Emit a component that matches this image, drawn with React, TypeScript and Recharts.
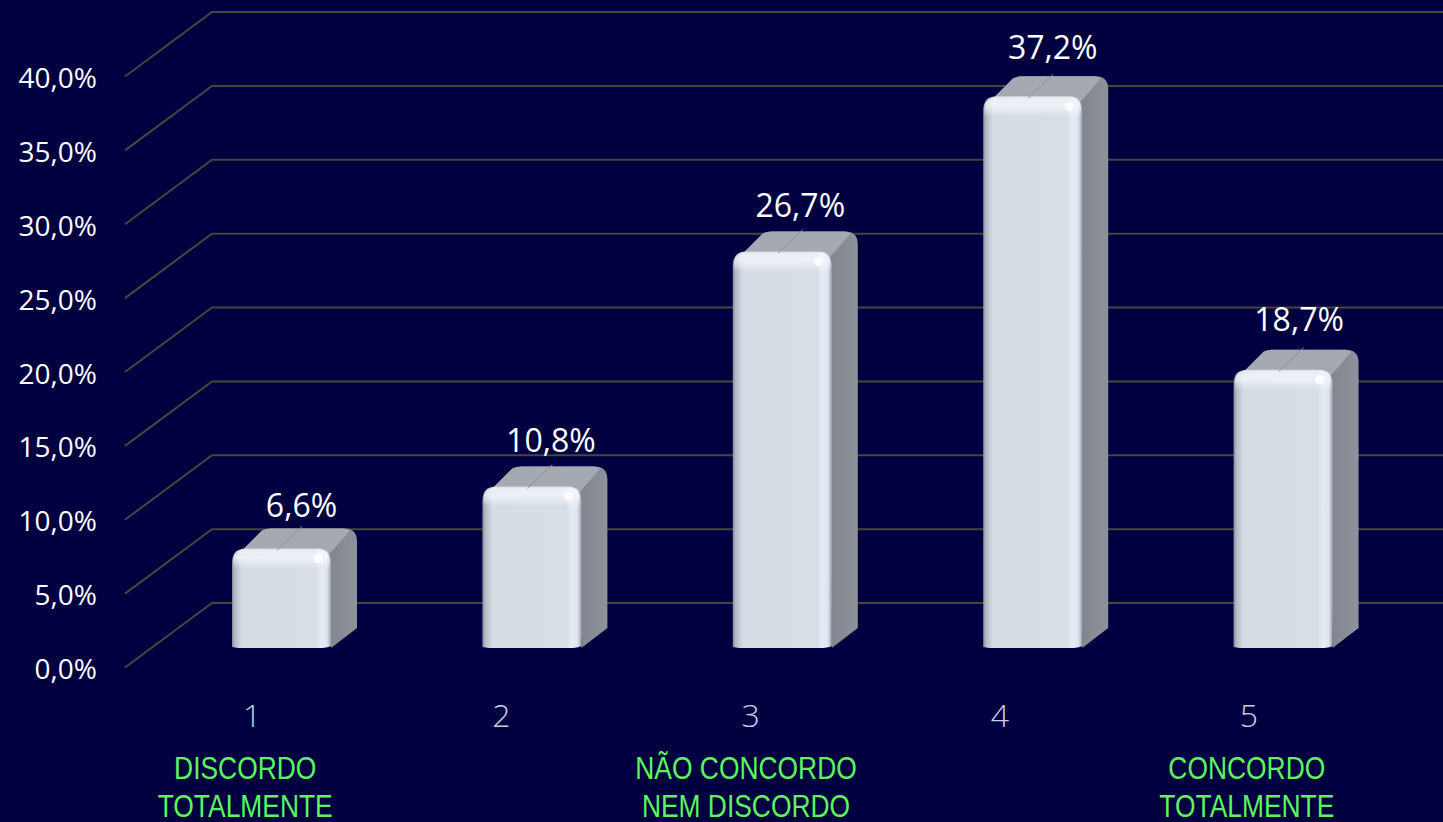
import React from 'react';
import { BarChart, Bar, XAxis, YAxis, CartesianGrid, LabelList } from 'recharts';

const categories = ['1', '2', '3', '4', '5'];
const values = [6.6, 10.8, 26.7, 37.2, 18.7];
const captions = [['DISCORDO', 'TOTALMENTE'], [], ['NÃO CONCORDO', 'NEM DISCORDO'], [], ['CONCORDO', 'TOTALMENTE']];
const yTicks = [0, 5, 10, 15, 20, 25, 30, 35, 40];

const chartData = categories.map((name, i) => ({ name, value: values[i] }));

const fmt = (v: number) => v.toFixed(1).replace('.', ',') + '%';

const BG = '#000040';
const GRID = '#46463e';
const DX = 26;
const DY = 20;

// the data labels were placed by hand in the original, so each one sits a bit differently
const labelNudgeX = [0, -1, -2, 0, -4];
const labelNudgeY = [0, -3, -4, -6, -8];

const GridLine = (props: any) => {
    const y = props.y1;
    return (
        <polyline
            points={`125,${y + 19.5} 212,${y - 45} 1443,${y - 45}`}
            fill="none"
            stroke={GRID}
            strokeWidth={2}
        />
    );
};

const YTick = ({ y, payload }: any) => (
    <text x={97} y={y + 31} textAnchor="end" fontFamily="Open Sans" fontSize={28} fill="#ffffff">
        {fmt(payload.value)}
    </text>
);

const XTick = ({ x, index, payload }: any) => (
    <g>
        <text x={x - 29 - index * 1.2} y={727} textAnchor="middle" fontFamily="Open Sans" fontWeight={300} fontSize={32} fill="#c9cde0">
            {payload.value}
        </text>
        {captions[index].map((line, i) => (
            <text
                key={line}
                transform={`translate(${x - 36},${779 + i * 38}) scale(0.825,1)`}
                textAnchor="middle"
                fontFamily="Liberation Sans"
                fontSize={32}
                fill="#5cf55c"
            >
                {line}
            </text>
        ))}
    </g>
);

const Box = ({ x, y: rawY, width, height }: any) => {
    const r = 14;
    const y = rawY - 2;
    const right = x + width;
    const bottom = rawY + height;
    const backR = right + DX;
    const backT = y - DY;
    return (
        <g>
            {/* side + top silhouette */}
            <path
                d={`M${x + 6},${y + 6} L${x + DX + 4},${backT + 2} Q${x + DX + 8},${backT} ${x + DX + 13},${backT} L${backR - 13},${backT} Q${backR},${backT} ${backR},${backT + 13} L${backR},${bottom - DY} L${right},${bottom} L${right - 4},${y + 8} Z`}
                fill="url(#sideGrad)"
            />
            {/* top */}
            <path
                d={`M${x + 6},${y + 6} L${x + DX + 4},${backT + 2} Q${x + DX + 8},${backT} ${x + DX + 13},${backT} L${backR - 13},${backT} Q${backR - 6},${backT + 1} ${backR - 8},${backT + 3} L${right - 2},${y + 6} Z`}
                fill="#a5a9b1"
            />
            {/* front */}
            <path
                d={`M${x},${bottom - 1} L${x},${y + r} Q${x},${y} ${x + r},${y} L${right - r},${y} Q${right},${y} ${right},${y + r} L${right},${bottom - 2} Q${right - 4},${bottom} ${right - 12},${bottom} L${x + 6},${bottom} Z`}
                fill="url(#faceGrad)"
            />
            <path
                d={`M${x + 1},${y + 20} L${x + 1},${y + r} Q${x + 1},${y + 1} ${x + r},${y + 1} L${right - r},${y + 1} Q${right - 1},${y + 1} ${right - 1},${y + r} L${right - 1},${y + 20} Z`}
                fill="url(#glossGrad)"
            />
            <circle cx={right - 13} cy={y + 10} r={4.5} fill="#ffffff" opacity={0.85} />
            {/* leader */}
            <line x1={x + 45} y1={y + 2} x2={x + 70} y2={y - 22} stroke="#8f9298" strokeWidth={1} />
        </g>
    );
};

const ValueLabel = ({ x, y, width, value, index }: any) => (
    <text
        x={x + width / 2 + 20 + labelNudgeX[index]}
        y={y - 33 + labelNudgeY[index]}
        textAnchor="middle"
        fontFamily="Open Sans"
        fontSize={32}
        fill="#ffffff"
    >
        {fmt(value)}
    </text>
);

export default function App() {
    return (
        <div style={{ width: 1443, height: 822, overflow: 'hidden', background: BG }}>
            <style>{'body{margin:0}'}</style>
            <BarChart
                width={1443}
                height={822}
                data={chartData}
                margin={{ top: 57, right: 35, bottom: 0, left: 0 }}
                style={{ background: BG }}
            >
                <defs>
                    <linearGradient id="faceGrad" x1="0" y1="0" x2="1" y2="0">
                        <stop offset="0" stopColor="#868d9a" />
                        <stop offset="0.03" stopColor="#b4bac6" />
                        <stop offset="0.1" stopColor="#d6dce4" />
                        <stop offset="0.85" stopColor="#d8dee6" />
                        <stop offset="0.9" stopColor="#e6ecf6" />
                        <stop offset="0.96" stopColor="#dfe5f0" />
                        <stop offset="1" stopColor="#9da2ac" />
                    </linearGradient>
                    <linearGradient id="sideGrad" x1="0" y1="0" x2="1" y2="0">
                        <stop offset="0" stopColor="#7b7f87" />
                        <stop offset="0.8" stopColor="#83878f" />
                        <stop offset="1" stopColor="#8e929a" />
                    </linearGradient>
                    <linearGradient id="glossGrad" x1="0" y1="0" x2="0" y2="1">
                        <stop offset="0" stopColor="#ffffff" stopOpacity={0.45} />
                        <stop offset="0.4" stopColor="#f4f7ff" stopOpacity={0.75} />
                        <stop offset="1" stopColor="#ffffff" stopOpacity={0} />
                    </linearGradient>
                </defs>
                <CartesianGrid vertical={false} horizontal={GridLine} horizontalValues={yTicks} />
                <XAxis dataKey="name" axisLine={false} tickLine={false} tick={XTick} interval={0} height={174} />
                <YAxis
                    domain={[0, 40]}
                    ticks={yTicks}
                    axisLine={false}
                    tickLine={false}
                    tick={YTick}
                    width={156}
                />
                <Bar dataKey="value" barSize={99} shape={Box} isAnimationActive={false}>
                    <LabelList dataKey="value" content={ValueLabel} />
                </Bar>
            </BarChart>
        </div>
    );
}
